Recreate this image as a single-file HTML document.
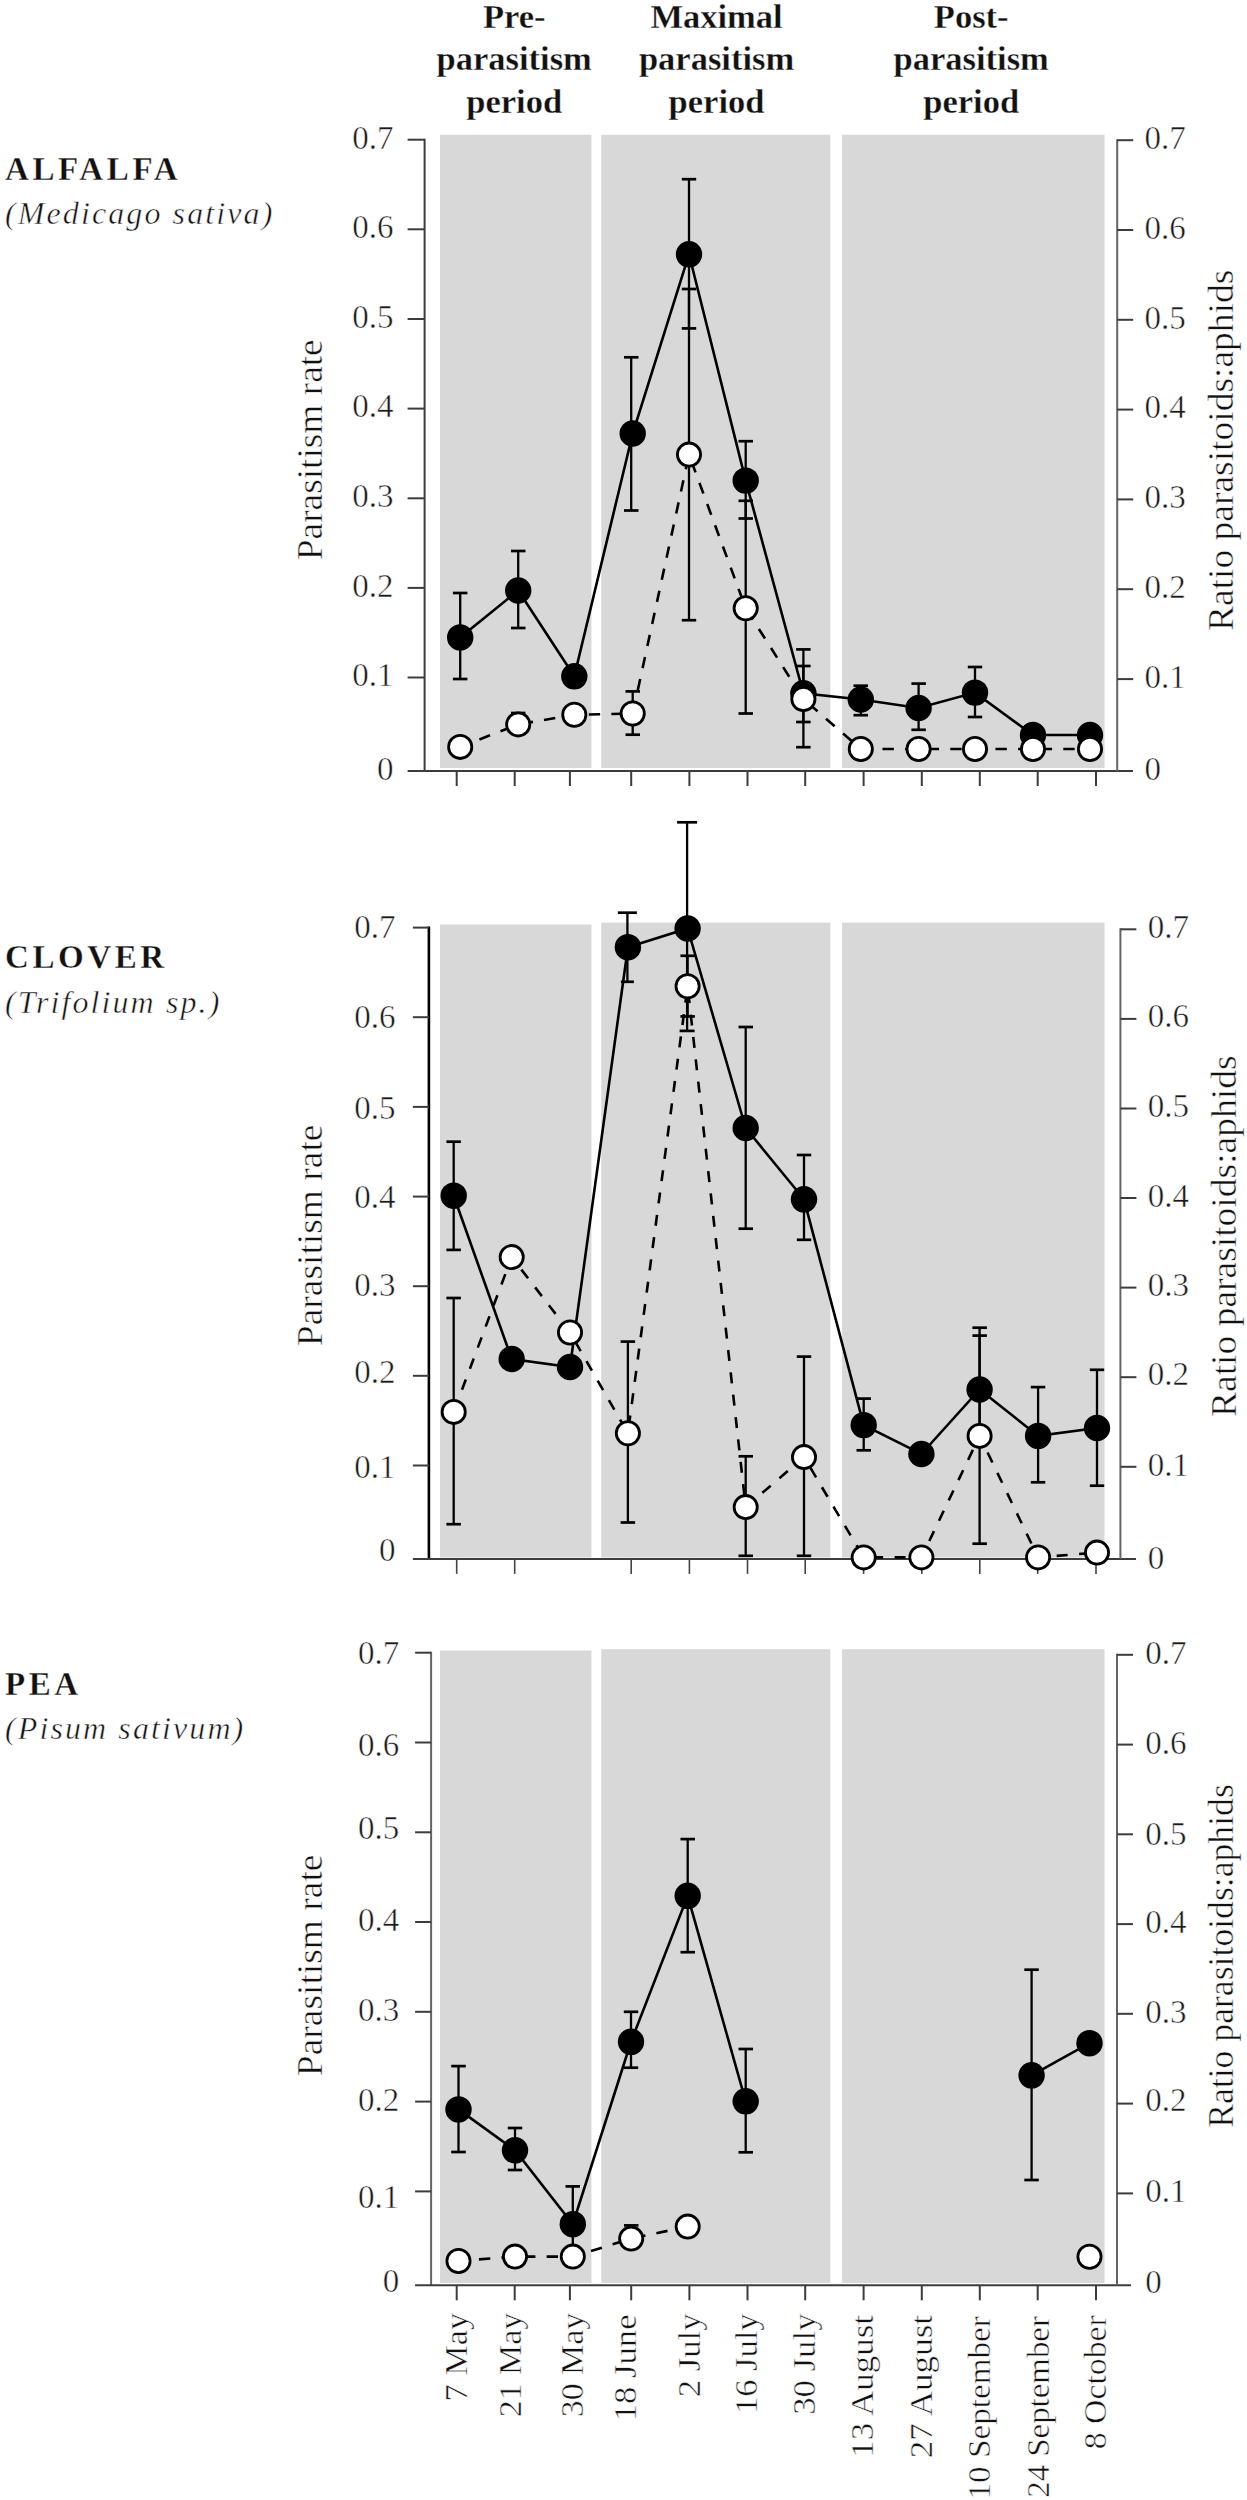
<!DOCTYPE html>
<html><head><meta charset="utf-8"><style>
html,body{margin:0;padding:0;background:#fff;}
svg{display:block;}
text{font-family:"Liberation Serif",serif;fill:#111;stroke:#fff;stroke-width:0.5px;}
text.b{stroke-width:0.3px;}
.tk{fill:#1a1a1a;}
</style></head><body>
<svg width="1247" height="2500" viewBox="0 0 1247 2500">
<rect width="1247" height="2500" fill="#fff"/>
<rect x="440.0" y="134.8" width="151.4" height="633.2" fill="#d8d8d8"/>
<rect x="601.3" y="134.8" width="229.0" height="633.2" fill="#d8d8d8"/>
<rect x="842.1" y="134.8" width="262.4" height="633.2" fill="#d8d8d8"/>
<line x1="424.6" y1="138.7" x2="424.6" y2="771.0" stroke="#3c3c3c" stroke-width="2" />
<line x1="407.6" y1="677.5" x2="424.6" y2="677.5" stroke="#3c3c3c" stroke-width="2" />
<line x1="407.6" y1="587.9" x2="424.6" y2="587.9" stroke="#3c3c3c" stroke-width="2" />
<line x1="407.6" y1="498.3" x2="424.6" y2="498.3" stroke="#3c3c3c" stroke-width="2" />
<line x1="407.6" y1="408.6" x2="424.6" y2="408.6" stroke="#3c3c3c" stroke-width="2" />
<line x1="407.6" y1="319.0" x2="424.6" y2="319.0" stroke="#3c3c3c" stroke-width="2" />
<line x1="407.6" y1="229.3" x2="424.6" y2="229.3" stroke="#3c3c3c" stroke-width="2" />
<line x1="407.6" y1="139.7" x2="424.6" y2="139.7" stroke="#3c3c3c" stroke-width="2" />
<line x1="407.6" y1="771.0" x2="1133.0" y2="771.0" stroke="#3c3c3c" stroke-width="2" />
<line x1="1117.2" y1="139.2" x2="1117.2" y2="771.0" stroke="#646464" stroke-width="2" />
<line x1="1117.2" y1="679.1" x2="1133.2" y2="679.1" stroke="#3c3c3c" stroke-width="2" />
<line x1="1117.2" y1="589.2" x2="1133.2" y2="589.2" stroke="#3c3c3c" stroke-width="2" />
<line x1="1117.2" y1="499.4" x2="1133.2" y2="499.4" stroke="#3c3c3c" stroke-width="2" />
<line x1="1117.2" y1="409.6" x2="1133.2" y2="409.6" stroke="#3c3c3c" stroke-width="2" />
<line x1="1117.2" y1="319.8" x2="1133.2" y2="319.8" stroke="#3c3c3c" stroke-width="2" />
<line x1="1117.2" y1="230.0" x2="1133.2" y2="230.0" stroke="#3c3c3c" stroke-width="2" />
<line x1="1117.2" y1="140.2" x2="1133.2" y2="140.2" stroke="#3c3c3c" stroke-width="2" />
<line x1="456.7" y1="771.0" x2="456.7" y2="786.0" stroke="#3c3c3c" stroke-width="2" />
<line x1="514.7" y1="771.0" x2="514.7" y2="786.0" stroke="#3c3c3c" stroke-width="2" />
<line x1="569.9" y1="771.0" x2="569.9" y2="786.0" stroke="#3c3c3c" stroke-width="2" />
<line x1="631.2" y1="771.0" x2="631.2" y2="786.0" stroke="#3c3c3c" stroke-width="2" />
<line x1="689.4" y1="771.0" x2="689.4" y2="786.0" stroke="#3c3c3c" stroke-width="2" />
<line x1="747.5" y1="771.0" x2="747.5" y2="786.0" stroke="#3c3c3c" stroke-width="2" />
<line x1="805.2" y1="771.0" x2="805.2" y2="786.0" stroke="#3c3c3c" stroke-width="2" />
<line x1="863.6" y1="771.0" x2="863.6" y2="786.0" stroke="#3c3c3c" stroke-width="2" />
<line x1="921.8" y1="771.0" x2="921.8" y2="786.0" stroke="#3c3c3c" stroke-width="2" />
<line x1="979.8" y1="771.0" x2="979.8" y2="786.0" stroke="#3c3c3c" stroke-width="2" />
<line x1="1037.7" y1="771.0" x2="1037.7" y2="786.0" stroke="#3c3c3c" stroke-width="2" />
<line x1="1096.0" y1="771.0" x2="1096.0" y2="786.0" stroke="#3c3c3c" stroke-width="2" />
<text x="393.5" y="779.7" font-size="33" text-anchor="end" font-weight="normal" font-style="normal" class="tk">0</text>
<text x="1144.5" y="779.7" font-size="33" text-anchor="start" font-weight="normal" font-style="normal" class="tk">0</text>
<text x="393.5" y="686.3" font-size="33" text-anchor="end" font-weight="normal" font-style="normal" class="tk">0.1</text>
<text x="1144.5" y="687.9" font-size="33" text-anchor="start" font-weight="normal" font-style="normal" class="tk">0.1</text>
<text x="393.5" y="596.7" font-size="33" text-anchor="end" font-weight="normal" font-style="normal" class="tk">0.2</text>
<text x="1144.5" y="598.0" font-size="33" text-anchor="start" font-weight="normal" font-style="normal" class="tk">0.2</text>
<text x="393.5" y="507.1" font-size="33" text-anchor="end" font-weight="normal" font-style="normal" class="tk">0.3</text>
<text x="1144.5" y="508.2" font-size="33" text-anchor="start" font-weight="normal" font-style="normal" class="tk">0.3</text>
<text x="393.5" y="417.4" font-size="33" text-anchor="end" font-weight="normal" font-style="normal" class="tk">0.4</text>
<text x="1144.5" y="418.4" font-size="33" text-anchor="start" font-weight="normal" font-style="normal" class="tk">0.4</text>
<text x="393.5" y="327.8" font-size="33" text-anchor="end" font-weight="normal" font-style="normal" class="tk">0.5</text>
<text x="1144.5" y="328.6" font-size="33" text-anchor="start" font-weight="normal" font-style="normal" class="tk">0.5</text>
<text x="393.5" y="238.1" font-size="33" text-anchor="end" font-weight="normal" font-style="normal" class="tk">0.6</text>
<text x="1144.5" y="238.8" font-size="33" text-anchor="start" font-weight="normal" font-style="normal" class="tk">0.6</text>
<text x="393.5" y="148.5" font-size="33" text-anchor="end" font-weight="normal" font-style="normal" class="tk">0.7</text>
<text x="1144.5" y="149.0" font-size="33" text-anchor="start" font-weight="normal" font-style="normal" class="tk">0.7</text>
<text transform="translate(322,560.2) rotate(-90)" font-size="36" textLength="220.9" lengthAdjust="spacingAndGlyphs">Parasitism rate</text>
<text transform="translate(1232.5,631.1) rotate(-90)" font-size="36" textLength="361.4" lengthAdjust="spacingAndGlyphs">Ratio parasitoids:aphids</text>
<text x="5" y="179.5" font-size="33" font-weight="bold" letter-spacing="3.6" class="b">ALFALFA</text>
<text x="5" y="224.0" font-size="32" font-style="italic" letter-spacing="2.1">(Medicago sativa)</text>
<line x1="460.2" y1="593.0" x2="460.2" y2="679.0" stroke="#000" stroke-width="2.3" />
<line x1="452.9" y1="593.0" x2="467.4" y2="593.0" stroke="#000" stroke-width="2.7" />
<line x1="452.9" y1="679.0" x2="467.4" y2="679.0" stroke="#000" stroke-width="2.7" />
<line x1="518.2" y1="551.0" x2="518.2" y2="628.0" stroke="#000" stroke-width="2.3" />
<line x1="511.0" y1="551.0" x2="525.5" y2="551.0" stroke="#000" stroke-width="2.7" />
<line x1="511.0" y1="628.0" x2="525.5" y2="628.0" stroke="#000" stroke-width="2.7" />
<line x1="631.2" y1="357.3" x2="631.2" y2="510.5" stroke="#000" stroke-width="2.3" />
<line x1="624.0" y1="357.3" x2="638.5" y2="357.3" stroke="#000" stroke-width="2.7" />
<line x1="624.0" y1="510.5" x2="638.5" y2="510.5" stroke="#000" stroke-width="2.7" />
<line x1="689.0" y1="179.2" x2="689.0" y2="328.4" stroke="#000" stroke-width="2.3" />
<line x1="681.8" y1="179.2" x2="696.2" y2="179.2" stroke="#000" stroke-width="2.7" />
<line x1="681.8" y1="328.4" x2="696.2" y2="328.4" stroke="#000" stroke-width="2.7" />
<line x1="745.7" y1="441.2" x2="745.7" y2="518.5" stroke="#000" stroke-width="2.3" />
<line x1="738.5" y1="441.2" x2="753.0" y2="441.2" stroke="#000" stroke-width="2.7" />
<line x1="738.5" y1="518.5" x2="753.0" y2="518.5" stroke="#000" stroke-width="2.7" />
<line x1="803.4" y1="666.0" x2="803.4" y2="722.0" stroke="#000" stroke-width="2.3" />
<line x1="796.1" y1="666.0" x2="810.6" y2="666.0" stroke="#000" stroke-width="2.7" />
<line x1="796.1" y1="722.0" x2="810.6" y2="722.0" stroke="#000" stroke-width="2.7" />
<line x1="860.8" y1="685.7" x2="860.8" y2="715.2" stroke="#000" stroke-width="2.3" />
<line x1="853.5" y1="685.7" x2="868.0" y2="685.7" stroke="#000" stroke-width="2.7" />
<line x1="853.5" y1="715.2" x2="868.0" y2="715.2" stroke="#000" stroke-width="2.7" />
<line x1="918.6" y1="683.6" x2="918.6" y2="729.8" stroke="#000" stroke-width="2.3" />
<line x1="911.4" y1="683.6" x2="925.9" y2="683.6" stroke="#000" stroke-width="2.7" />
<line x1="911.4" y1="729.8" x2="925.9" y2="729.8" stroke="#000" stroke-width="2.7" />
<line x1="975.0" y1="667.0" x2="975.0" y2="717.0" stroke="#000" stroke-width="2.3" />
<line x1="967.8" y1="667.0" x2="982.2" y2="667.0" stroke="#000" stroke-width="2.7" />
<line x1="967.8" y1="717.0" x2="982.2" y2="717.0" stroke="#000" stroke-width="2.7" />
<polyline points="460.2,637.4 518.2,590.5 574.3,676.3 632.7,433.5 689.0,254.3 745.7,480.6 803.4,693.3 860.8,699.5 918.6,708.0 975.0,692.6 1033.0,735.0 1090.0,735.0" fill="none" stroke="#000" stroke-width="2.6" stroke-linejoin="miter"/>
<circle cx="460.2" cy="637.4" r="13.2" fill="#000"/>
<circle cx="518.2" cy="590.5" r="13.2" fill="#000"/>
<circle cx="574.3" cy="676.3" r="13.2" fill="#000"/>
<circle cx="632.7" cy="433.5" r="13.2" fill="#000"/>
<circle cx="689.0" cy="254.3" r="13.2" fill="#000"/>
<circle cx="745.7" cy="480.6" r="13.2" fill="#000"/>
<circle cx="803.4" cy="693.3" r="13.2" fill="#000"/>
<circle cx="860.8" cy="699.5" r="13.2" fill="#000"/>
<circle cx="918.6" cy="708.0" r="13.2" fill="#000"/>
<circle cx="975.0" cy="692.6" r="13.2" fill="#000"/>
<circle cx="1033.0" cy="735.0" r="13.2" fill="#000"/>
<circle cx="1090.0" cy="735.0" r="13.2" fill="#000"/>
<line x1="518.2" y1="713.0" x2="518.2" y2="730.0" stroke="#000" stroke-width="2.3" />
<line x1="511.0" y1="713.0" x2="525.5" y2="713.0" stroke="#000" stroke-width="2.7" />
<line x1="511.0" y1="730.0" x2="525.5" y2="730.0" stroke="#000" stroke-width="2.7" />
<line x1="632.7" y1="691.4" x2="632.7" y2="734.7" stroke="#000" stroke-width="2.3" />
<line x1="625.5" y1="691.4" x2="640.0" y2="691.4" stroke="#000" stroke-width="2.7" />
<line x1="625.5" y1="734.7" x2="640.0" y2="734.7" stroke="#000" stroke-width="2.7" />
<line x1="689.0" y1="289.0" x2="689.0" y2="620.2" stroke="#000" stroke-width="2.3" />
<line x1="681.8" y1="289.0" x2="696.2" y2="289.0" stroke="#000" stroke-width="2.7" />
<line x1="681.8" y1="620.2" x2="696.2" y2="620.2" stroke="#000" stroke-width="2.7" />
<line x1="745.7" y1="500.8" x2="745.7" y2="713.5" stroke="#000" stroke-width="2.3" />
<line x1="738.5" y1="500.8" x2="753.0" y2="500.8" stroke="#000" stroke-width="2.7" />
<line x1="738.5" y1="713.5" x2="753.0" y2="713.5" stroke="#000" stroke-width="2.7" />
<line x1="803.4" y1="649.4" x2="803.4" y2="747.2" stroke="#000" stroke-width="2.3" />
<line x1="796.1" y1="649.4" x2="810.6" y2="649.4" stroke="#000" stroke-width="2.7" />
<line x1="796.1" y1="747.2" x2="810.6" y2="747.2" stroke="#000" stroke-width="2.7" />
<polyline points="460.2,746.9 518.2,724.4 574.3,714.8 632.7,713.5 689.0,454.6 745.7,608.2 803.4,699.0 860.8,749.0 918.6,749.0 975.0,749.0 1033.0,749.0 1090.0,749.0" fill="none" stroke="#000" stroke-width="2.6" stroke-dasharray="11.4 11.2" stroke-dashoffset="2.0"/>
<circle cx="460.2" cy="746.9" r="11.6" fill="#fff" stroke="#000" stroke-width="2.8"/>
<circle cx="518.2" cy="724.4" r="11.6" fill="#fff" stroke="#000" stroke-width="2.8"/>
<circle cx="574.3" cy="714.8" r="11.6" fill="#fff" stroke="#000" stroke-width="2.8"/>
<circle cx="632.7" cy="713.5" r="11.6" fill="#fff" stroke="#000" stroke-width="2.8"/>
<circle cx="689.0" cy="454.6" r="11.6" fill="#fff" stroke="#000" stroke-width="2.8"/>
<circle cx="745.7" cy="608.2" r="11.6" fill="#fff" stroke="#000" stroke-width="2.8"/>
<circle cx="803.4" cy="699.0" r="11.6" fill="#fff" stroke="#000" stroke-width="2.8"/>
<circle cx="860.8" cy="749.0" r="11.6" fill="#fff" stroke="#000" stroke-width="2.8"/>
<circle cx="918.6" cy="749.0" r="11.6" fill="#fff" stroke="#000" stroke-width="2.8"/>
<circle cx="975.0" cy="749.0" r="11.6" fill="#fff" stroke="#000" stroke-width="2.8"/>
<circle cx="1033.0" cy="749.0" r="11.6" fill="#fff" stroke="#000" stroke-width="2.8"/>
<circle cx="1090.0" cy="749.0" r="11.6" fill="#fff" stroke="#000" stroke-width="2.8"/>
<rect x="440.0" y="924.5" width="151.4" height="633.0" fill="#d8d8d8"/>
<rect x="601.3" y="922.7" width="229.0" height="634.8" fill="#d8d8d8"/>
<rect x="842.1" y="922.7" width="262.4" height="634.8" fill="#d8d8d8"/>
<line x1="428.9" y1="926.6" x2="428.9" y2="1558.9" stroke="#000" stroke-width="2.6" />
<line x1="412.9" y1="1465.5" x2="428.9" y2="1465.5" stroke="#3c3c3c" stroke-width="2" />
<line x1="412.9" y1="1375.8" x2="428.9" y2="1375.8" stroke="#3c3c3c" stroke-width="2" />
<line x1="412.9" y1="1286.2" x2="428.9" y2="1286.2" stroke="#3c3c3c" stroke-width="2" />
<line x1="412.9" y1="1196.6" x2="428.9" y2="1196.6" stroke="#3c3c3c" stroke-width="2" />
<line x1="412.9" y1="1106.9" x2="428.9" y2="1106.9" stroke="#3c3c3c" stroke-width="2" />
<line x1="412.9" y1="1017.2" x2="428.9" y2="1017.2" stroke="#3c3c3c" stroke-width="2" />
<line x1="412.9" y1="927.6" x2="428.9" y2="927.6" stroke="#3c3c3c" stroke-width="2" />
<line x1="412.9" y1="1558.9" x2="1136.0" y2="1558.9" stroke="#3c3c3c" stroke-width="2" />
<line x1="1120.4" y1="928.3" x2="1120.4" y2="1558.9" stroke="#646464" stroke-width="2" />
<line x1="1120.4" y1="1466.8" x2="1136.4" y2="1466.8" stroke="#3c3c3c" stroke-width="2" />
<line x1="1120.4" y1="1377.2" x2="1136.4" y2="1377.2" stroke="#3c3c3c" stroke-width="2" />
<line x1="1120.4" y1="1287.6" x2="1136.4" y2="1287.6" stroke="#3c3c3c" stroke-width="2" />
<line x1="1120.4" y1="1198.0" x2="1136.4" y2="1198.0" stroke="#3c3c3c" stroke-width="2" />
<line x1="1120.4" y1="1108.5" x2="1136.4" y2="1108.5" stroke="#3c3c3c" stroke-width="2" />
<line x1="1120.4" y1="1018.9" x2="1136.4" y2="1018.9" stroke="#3c3c3c" stroke-width="2" />
<line x1="1120.4" y1="929.3" x2="1136.4" y2="929.3" stroke="#3c3c3c" stroke-width="2" />
<line x1="456.7" y1="1558.9" x2="456.7" y2="1573.9" stroke="#444" stroke-width="1.6" />
<line x1="514.7" y1="1558.9" x2="514.7" y2="1573.9" stroke="#444" stroke-width="1.6" />
<line x1="631.2" y1="1558.9" x2="631.2" y2="1573.9" stroke="#444" stroke-width="1.6" />
<line x1="689.4" y1="1558.9" x2="689.4" y2="1573.9" stroke="#444" stroke-width="1.6" />
<line x1="747.5" y1="1558.9" x2="747.5" y2="1573.9" stroke="#444" stroke-width="1.6" />
<line x1="805.2" y1="1558.9" x2="805.2" y2="1573.9" stroke="#444" stroke-width="1.6" />
<line x1="863.6" y1="1558.9" x2="863.6" y2="1573.9" stroke="#444" stroke-width="1.6" />
<line x1="921.8" y1="1558.9" x2="921.8" y2="1573.9" stroke="#444" stroke-width="1.6" />
<line x1="979.8" y1="1558.9" x2="979.8" y2="1573.9" stroke="#444" stroke-width="1.6" />
<line x1="1037.7" y1="1558.9" x2="1037.7" y2="1573.9" stroke="#444" stroke-width="1.6" />
<line x1="1096.0" y1="1558.9" x2="1096.0" y2="1573.9" stroke="#444" stroke-width="1.6" />
<text x="395.5" y="1561.4" font-size="33" text-anchor="end" font-weight="normal" font-style="normal" class="tk">0</text>
<text x="1147.7" y="1568.5" font-size="33" text-anchor="start" font-weight="normal" font-style="normal" class="tk">0</text>
<text x="395.5" y="1477.5" font-size="33" text-anchor="end" font-weight="normal" font-style="normal" class="tk">0.1</text>
<text x="1147.7" y="1476.3" font-size="33" text-anchor="start" font-weight="normal" font-style="normal" class="tk">0.1</text>
<text x="395.5" y="1382.5" font-size="33" text-anchor="end" font-weight="normal" font-style="normal" class="tk">0.2</text>
<text x="1147.7" y="1384.5" font-size="33" text-anchor="start" font-weight="normal" font-style="normal" class="tk">0.2</text>
<text x="395.5" y="1296.3" font-size="33" text-anchor="end" font-weight="normal" font-style="normal" class="tk">0.3</text>
<text x="1147.7" y="1296.0" font-size="33" text-anchor="start" font-weight="normal" font-style="normal" class="tk">0.3</text>
<text x="395.5" y="1208.0" font-size="33" text-anchor="end" font-weight="normal" font-style="normal" class="tk">0.4</text>
<text x="1147.7" y="1206.5" font-size="33" text-anchor="start" font-weight="normal" font-style="normal" class="tk">0.4</text>
<text x="395.5" y="1118.7" font-size="33" text-anchor="end" font-weight="normal" font-style="normal" class="tk">0.5</text>
<text x="1147.7" y="1117.0" font-size="33" text-anchor="start" font-weight="normal" font-style="normal" class="tk">0.5</text>
<text x="395.5" y="1028.0" font-size="33" text-anchor="end" font-weight="normal" font-style="normal" class="tk">0.6</text>
<text x="1147.7" y="1027.4" font-size="33" text-anchor="start" font-weight="normal" font-style="normal" class="tk">0.6</text>
<text x="395.5" y="937.8" font-size="33" text-anchor="end" font-weight="normal" font-style="normal" class="tk">0.7</text>
<text x="1147.7" y="937.7" font-size="33" text-anchor="start" font-weight="normal" font-style="normal" class="tk">0.7</text>
<text transform="translate(322,1346.2) rotate(-90)" font-size="36" textLength="221.7" lengthAdjust="spacingAndGlyphs">Parasitism rate</text>
<text transform="translate(1235.5,1417.0) rotate(-90)" font-size="36" textLength="361.5" lengthAdjust="spacingAndGlyphs">Ratio parasitoids:aphids</text>
<text x="5" y="968.4" font-size="33" font-weight="bold" letter-spacing="3.6" class="b">CLOVER</text>
<text x="5" y="1012.9" font-size="32" font-style="italic" letter-spacing="2.1">(Trifolium sp.)</text>
<line x1="453.7" y1="1141.7" x2="453.7" y2="1249.9" stroke="#000" stroke-width="2.3" />
<line x1="446.4" y1="1141.7" x2="460.9" y2="1141.7" stroke="#000" stroke-width="2.7" />
<line x1="446.4" y1="1249.9" x2="460.9" y2="1249.9" stroke="#000" stroke-width="2.7" />
<line x1="627.4" y1="912.7" x2="627.4" y2="981.8" stroke="#000" stroke-width="2.3" />
<line x1="617.9" y1="912.7" x2="636.9" y2="912.7" stroke="#000" stroke-width="2.7" />
<line x1="620.9" y1="981.8" x2="633.9" y2="981.8" stroke="#000" stroke-width="2.7" />
<line x1="687.1" y1="822.3" x2="687.1" y2="1030.9" stroke="#000" stroke-width="2.3" />
<line x1="677.1" y1="822.3" x2="697.1" y2="822.3" stroke="#000" stroke-width="2.7" />
<line x1="679.6" y1="1030.9" x2="694.6" y2="1030.9" stroke="#000" stroke-width="2.7" />
<line x1="745.7" y1="1027.0" x2="745.7" y2="1228.7" stroke="#000" stroke-width="2.3" />
<line x1="738.5" y1="1027.0" x2="753.0" y2="1027.0" stroke="#000" stroke-width="2.7" />
<line x1="738.5" y1="1228.7" x2="753.0" y2="1228.7" stroke="#000" stroke-width="2.7" />
<line x1="804.0" y1="1155.0" x2="804.0" y2="1239.8" stroke="#000" stroke-width="2.3" />
<line x1="796.8" y1="1155.0" x2="811.2" y2="1155.0" stroke="#000" stroke-width="2.7" />
<line x1="796.8" y1="1239.8" x2="811.2" y2="1239.8" stroke="#000" stroke-width="2.7" />
<line x1="863.7" y1="1398.6" x2="863.7" y2="1450.3" stroke="#000" stroke-width="2.3" />
<line x1="856.5" y1="1398.6" x2="871.0" y2="1398.6" stroke="#000" stroke-width="2.7" />
<line x1="856.5" y1="1450.3" x2="871.0" y2="1450.3" stroke="#000" stroke-width="2.7" />
<line x1="979.6" y1="1335.6" x2="979.6" y2="1443.0" stroke="#000" stroke-width="2.3" />
<line x1="972.4" y1="1335.6" x2="986.9" y2="1335.6" stroke="#000" stroke-width="2.7" />
<line x1="972.4" y1="1443.0" x2="986.9" y2="1443.0" stroke="#000" stroke-width="2.7" />
<line x1="1038.1" y1="1387.1" x2="1038.1" y2="1482.3" stroke="#000" stroke-width="2.3" />
<line x1="1030.8" y1="1387.1" x2="1045.3" y2="1387.1" stroke="#000" stroke-width="2.7" />
<line x1="1030.8" y1="1482.3" x2="1045.3" y2="1482.3" stroke="#000" stroke-width="2.7" />
<line x1="1097.0" y1="1369.8" x2="1097.0" y2="1485.7" stroke="#000" stroke-width="2.3" />
<line x1="1089.8" y1="1369.8" x2="1104.2" y2="1369.8" stroke="#000" stroke-width="2.7" />
<line x1="1089.8" y1="1485.7" x2="1104.2" y2="1485.7" stroke="#000" stroke-width="2.7" />
<polyline points="453.7,1195.7 511.7,1359.0 570.0,1367.0 627.9,947.2 687.6,928.5 745.7,1128.0 804.0,1199.3 863.7,1425.1 921.4,1454.0 979.6,1389.5 1038.1,1435.9 1097.0,1428.0" fill="none" stroke="#000" stroke-width="2.6" stroke-linejoin="miter"/>
<circle cx="453.7" cy="1195.7" r="13.2" fill="#000"/>
<circle cx="511.7" cy="1359.0" r="13.2" fill="#000"/>
<circle cx="570.0" cy="1367.0" r="13.2" fill="#000"/>
<circle cx="627.9" cy="947.2" r="13.2" fill="#000"/>
<circle cx="687.6" cy="928.5" r="13.2" fill="#000"/>
<circle cx="745.7" cy="1128.0" r="13.2" fill="#000"/>
<circle cx="804.0" cy="1199.3" r="13.2" fill="#000"/>
<circle cx="863.7" cy="1425.1" r="13.2" fill="#000"/>
<circle cx="921.4" cy="1454.0" r="13.2" fill="#000"/>
<circle cx="979.6" cy="1389.5" r="13.2" fill="#000"/>
<circle cx="1038.1" cy="1435.9" r="13.2" fill="#000"/>
<circle cx="1097.0" cy="1428.0" r="13.2" fill="#000"/>
<line x1="453.7" y1="1298.0" x2="453.7" y2="1524.2" stroke="#000" stroke-width="2.3" />
<line x1="446.4" y1="1298.0" x2="460.9" y2="1298.0" stroke="#000" stroke-width="2.7" />
<line x1="446.4" y1="1524.2" x2="460.9" y2="1524.2" stroke="#000" stroke-width="2.7" />
<line x1="627.9" y1="1341.6" x2="627.9" y2="1522.5" stroke="#000" stroke-width="2.3" />
<line x1="620.6" y1="1341.6" x2="635.1" y2="1341.6" stroke="#000" stroke-width="2.7" />
<line x1="620.6" y1="1522.5" x2="635.1" y2="1522.5" stroke="#000" stroke-width="2.7" />
<line x1="687.6" y1="955.8" x2="687.6" y2="1016.4" stroke="#000" stroke-width="2.3" />
<line x1="680.4" y1="955.8" x2="694.9" y2="955.8" stroke="#000" stroke-width="2.7" />
<line x1="680.4" y1="1016.4" x2="694.9" y2="1016.4" stroke="#000" stroke-width="2.7" />
<line x1="745.7" y1="1456.3" x2="745.7" y2="1555.8" stroke="#000" stroke-width="2.3" />
<line x1="738.5" y1="1456.3" x2="753.0" y2="1456.3" stroke="#000" stroke-width="2.7" />
<line x1="738.5" y1="1555.8" x2="753.0" y2="1555.8" stroke="#000" stroke-width="2.7" />
<line x1="804.0" y1="1356.6" x2="804.0" y2="1555.8" stroke="#000" stroke-width="2.3" />
<line x1="796.8" y1="1356.6" x2="811.2" y2="1356.6" stroke="#000" stroke-width="2.7" />
<line x1="796.8" y1="1555.8" x2="811.2" y2="1555.8" stroke="#000" stroke-width="2.7" />
<line x1="979.6" y1="1327.7" x2="979.6" y2="1543.7" stroke="#000" stroke-width="2.3" />
<line x1="972.4" y1="1327.7" x2="986.9" y2="1327.7" stroke="#000" stroke-width="2.7" />
<line x1="972.4" y1="1543.7" x2="986.9" y2="1543.7" stroke="#000" stroke-width="2.7" />
<polyline points="453.7,1411.9 511.7,1257.1 570.0,1332.5 627.9,1433.2 687.6,986.3 745.7,1507.1 804.0,1457.1 863.7,1557.4 921.4,1557.4 979.6,1435.9 1038.1,1557.4 1097.0,1552.6" fill="none" stroke="#000" stroke-width="2.6" stroke-dasharray="11 11.5" stroke-dashoffset="21.4"/>
<circle cx="453.7" cy="1411.9" r="11.6" fill="#fff" stroke="#000" stroke-width="2.8"/>
<circle cx="511.7" cy="1257.1" r="11.6" fill="#fff" stroke="#000" stroke-width="2.8"/>
<circle cx="570.0" cy="1332.5" r="11.6" fill="#fff" stroke="#000" stroke-width="2.8"/>
<circle cx="627.9" cy="1433.2" r="11.6" fill="#fff" stroke="#000" stroke-width="2.8"/>
<circle cx="687.6" cy="986.3" r="11.6" fill="#fff" stroke="#000" stroke-width="2.8"/>
<circle cx="745.7" cy="1507.1" r="11.6" fill="#fff" stroke="#000" stroke-width="2.8"/>
<circle cx="804.0" cy="1457.1" r="11.6" fill="#fff" stroke="#000" stroke-width="2.8"/>
<circle cx="863.7" cy="1557.4" r="11.6" fill="#fff" stroke="#000" stroke-width="2.8"/>
<circle cx="921.4" cy="1557.4" r="11.6" fill="#fff" stroke="#000" stroke-width="2.8"/>
<circle cx="979.6" cy="1435.9" r="11.6" fill="#fff" stroke="#000" stroke-width="2.8"/>
<circle cx="1038.1" cy="1557.4" r="11.6" fill="#fff" stroke="#000" stroke-width="2.8"/>
<circle cx="1097.0" cy="1552.6" r="11.6" fill="#fff" stroke="#000" stroke-width="2.8"/>
<rect x="440.0" y="1650.5" width="151.4" height="632.5" fill="#d8d8d8"/>
<rect x="601.3" y="1649.2" width="229.0" height="633.8" fill="#d8d8d8"/>
<rect x="842.1" y="1649.2" width="262.4" height="633.8" fill="#d8d8d8"/>
<line x1="431.1" y1="1651.7" x2="431.1" y2="2285.3" stroke="#646464" stroke-width="2" />
<line x1="415.1" y1="2191.4" x2="431.1" y2="2191.4" stroke="#3c3c3c" stroke-width="2" />
<line x1="415.1" y1="2101.6" x2="431.1" y2="2101.6" stroke="#3c3c3c" stroke-width="2" />
<line x1="415.1" y1="2011.8" x2="431.1" y2="2011.8" stroke="#3c3c3c" stroke-width="2" />
<line x1="415.1" y1="1922.0" x2="431.1" y2="1922.0" stroke="#3c3c3c" stroke-width="2" />
<line x1="415.1" y1="1832.3" x2="431.1" y2="1832.3" stroke="#3c3c3c" stroke-width="2" />
<line x1="415.1" y1="1742.5" x2="431.1" y2="1742.5" stroke="#3c3c3c" stroke-width="2" />
<line x1="415.1" y1="1652.7" x2="431.1" y2="1652.7" stroke="#3c3c3c" stroke-width="2" />
<line x1="415.1" y1="2285.3" x2="1131.0" y2="2285.3" stroke="#3c3c3c" stroke-width="2" />
<line x1="1117.0" y1="1653.8" x2="1117.0" y2="2285.3" stroke="#646464" stroke-width="2" />
<line x1="1117.0" y1="2193.4" x2="1133.0" y2="2193.4" stroke="#3c3c3c" stroke-width="2" />
<line x1="1117.0" y1="2103.6" x2="1133.0" y2="2103.6" stroke="#3c3c3c" stroke-width="2" />
<line x1="1117.0" y1="2013.8" x2="1133.0" y2="2013.8" stroke="#3c3c3c" stroke-width="2" />
<line x1="1117.0" y1="1924.1" x2="1133.0" y2="1924.1" stroke="#3c3c3c" stroke-width="2" />
<line x1="1117.0" y1="1834.3" x2="1133.0" y2="1834.3" stroke="#3c3c3c" stroke-width="2" />
<line x1="1117.0" y1="1744.6" x2="1133.0" y2="1744.6" stroke="#3c3c3c" stroke-width="2" />
<line x1="1117.0" y1="1654.8" x2="1133.0" y2="1654.8" stroke="#3c3c3c" stroke-width="2" />
<line x1="456.7" y1="2285.3" x2="456.7" y2="2300.3" stroke="#3c3c3c" stroke-width="2" />
<line x1="514.7" y1="2285.3" x2="514.7" y2="2300.3" stroke="#3c3c3c" stroke-width="2" />
<line x1="569.9" y1="2285.3" x2="569.9" y2="2300.3" stroke="#3c3c3c" stroke-width="2" />
<line x1="631.2" y1="2285.3" x2="631.2" y2="2300.3" stroke="#3c3c3c" stroke-width="2" />
<line x1="689.4" y1="2285.3" x2="689.4" y2="2300.3" stroke="#3c3c3c" stroke-width="2" />
<line x1="747.5" y1="2285.3" x2="747.5" y2="2300.3" stroke="#3c3c3c" stroke-width="2" />
<line x1="805.2" y1="2285.3" x2="805.2" y2="2300.3" stroke="#3c3c3c" stroke-width="2" />
<line x1="863.6" y1="2285.3" x2="863.6" y2="2300.3" stroke="#3c3c3c" stroke-width="2" />
<line x1="921.8" y1="2285.3" x2="921.8" y2="2300.3" stroke="#3c3c3c" stroke-width="2" />
<line x1="979.8" y1="2285.3" x2="979.8" y2="2300.3" stroke="#3c3c3c" stroke-width="2" />
<line x1="1037.7" y1="2285.3" x2="1037.7" y2="2300.3" stroke="#3c3c3c" stroke-width="2" />
<line x1="1096.0" y1="2285.3" x2="1096.0" y2="2300.3" stroke="#3c3c3c" stroke-width="2" />
<text x="399.3" y="2292.1" font-size="33" text-anchor="end" font-weight="normal" font-style="normal" class="tk">0</text>
<text x="1145.2" y="2293.3" font-size="33" text-anchor="start" font-weight="normal" font-style="normal" class="tk">0</text>
<text x="399.3" y="2208.4" font-size="33" text-anchor="end" font-weight="normal" font-style="normal" class="tk">0.1</text>
<text x="1145.2" y="2202.0" font-size="33" text-anchor="start" font-weight="normal" font-style="normal" class="tk">0.1</text>
<text x="399.3" y="2110.6" font-size="33" text-anchor="end" font-weight="normal" font-style="normal" class="tk">0.2</text>
<text x="1145.2" y="2111.3" font-size="33" text-anchor="start" font-weight="normal" font-style="normal" class="tk">0.2</text>
<text x="399.3" y="2021.1" font-size="33" text-anchor="end" font-weight="normal" font-style="normal" class="tk">0.3</text>
<text x="1145.2" y="2023.1" font-size="33" text-anchor="start" font-weight="normal" font-style="normal" class="tk">0.3</text>
<text x="399.3" y="1931.3" font-size="33" text-anchor="end" font-weight="normal" font-style="normal" class="tk">0.4</text>
<text x="1145.2" y="1932.9" font-size="33" text-anchor="start" font-weight="normal" font-style="normal" class="tk">0.4</text>
<text x="399.3" y="1839.1" font-size="33" text-anchor="end" font-weight="normal" font-style="normal" class="tk">0.5</text>
<text x="1145.2" y="1844.6" font-size="33" text-anchor="start" font-weight="normal" font-style="normal" class="tk">0.5</text>
<text x="399.3" y="1755.9" font-size="33" text-anchor="end" font-weight="normal" font-style="normal" class="tk">0.6</text>
<text x="1145.2" y="1753.8" font-size="33" text-anchor="start" font-weight="normal" font-style="normal" class="tk">0.6</text>
<text x="399.3" y="1664.4" font-size="33" text-anchor="end" font-weight="normal" font-style="normal" class="tk">0.7</text>
<text x="1145.2" y="1663.6" font-size="33" text-anchor="start" font-weight="normal" font-style="normal" class="tk">0.7</text>
<text transform="translate(322,2076.2) rotate(-90)" font-size="36" textLength="221.7" lengthAdjust="spacingAndGlyphs">Parasitism rate</text>
<text transform="translate(1232.8,2127.8) rotate(-90)" font-size="36" textLength="343.6" lengthAdjust="spacingAndGlyphs">Ratio parasitoids:aphids</text>
<text x="5" y="1694.7" font-size="33" font-weight="bold" letter-spacing="3.6" class="b">PEA</text>
<text x="5" y="1739.2" font-size="32" font-style="italic" letter-spacing="2.1">(Pisum sativum)</text>
<line x1="458.5" y1="2066.1" x2="458.5" y2="2152.0" stroke="#000" stroke-width="2.3" />
<line x1="451.2" y1="2066.1" x2="465.8" y2="2066.1" stroke="#000" stroke-width="2.7" />
<line x1="451.2" y1="2152.0" x2="465.8" y2="2152.0" stroke="#000" stroke-width="2.7" />
<line x1="515.0" y1="2128.0" x2="515.0" y2="2170.0" stroke="#000" stroke-width="2.3" />
<line x1="507.8" y1="2128.0" x2="522.2" y2="2128.0" stroke="#000" stroke-width="2.7" />
<line x1="507.8" y1="2170.0" x2="522.2" y2="2170.0" stroke="#000" stroke-width="2.7" />
<line x1="572.8" y1="2186.4" x2="572.8" y2="2262.0" stroke="#000" stroke-width="2.3" />
<line x1="565.5" y1="2186.4" x2="580.0" y2="2186.4" stroke="#000" stroke-width="2.7" />
<line x1="565.5" y1="2262.0" x2="580.0" y2="2262.0" stroke="#000" stroke-width="2.7" />
<line x1="631.0" y1="2011.8" x2="631.0" y2="2067.7" stroke="#000" stroke-width="2.3" />
<line x1="623.8" y1="2011.8" x2="638.2" y2="2011.8" stroke="#000" stroke-width="2.7" />
<line x1="623.8" y1="2067.7" x2="638.2" y2="2067.7" stroke="#000" stroke-width="2.7" />
<line x1="687.7" y1="1839.1" x2="687.7" y2="1952.2" stroke="#000" stroke-width="2.3" />
<line x1="680.5" y1="1839.1" x2="695.0" y2="1839.1" stroke="#000" stroke-width="2.7" />
<line x1="680.5" y1="1952.2" x2="695.0" y2="1952.2" stroke="#000" stroke-width="2.7" />
<line x1="745.7" y1="2049.0" x2="745.7" y2="2152.3" stroke="#000" stroke-width="2.3" />
<line x1="738.5" y1="2049.0" x2="753.0" y2="2049.0" stroke="#000" stroke-width="2.7" />
<line x1="738.5" y1="2152.3" x2="753.0" y2="2152.3" stroke="#000" stroke-width="2.7" />
<line x1="1031.6" y1="1969.7" x2="1031.6" y2="2180.0" stroke="#000" stroke-width="2.3" />
<line x1="1024.3" y1="1969.7" x2="1038.8" y2="1969.7" stroke="#000" stroke-width="2.7" />
<line x1="1024.3" y1="2180.0" x2="1038.8" y2="2180.0" stroke="#000" stroke-width="2.7" />
<polyline points="458.5,2109.4 515.0,2150.3 572.8,2224.2 631.0,2041.8 687.7,1895.8 745.7,2101.3" fill="none" stroke="#000" stroke-width="2.6" stroke-linejoin="miter"/>
<polyline points="1031.6,2075.3 1089.5,2043.2" fill="none" stroke="#000" stroke-width="2.6" stroke-linejoin="miter"/>
<circle cx="458.5" cy="2109.4" r="13.2" fill="#000"/>
<circle cx="515.0" cy="2150.3" r="13.2" fill="#000"/>
<circle cx="572.8" cy="2224.2" r="13.2" fill="#000"/>
<circle cx="631.0" cy="2041.8" r="13.2" fill="#000"/>
<circle cx="687.7" cy="1895.8" r="13.2" fill="#000"/>
<circle cx="745.7" cy="2101.3" r="13.2" fill="#000"/>
<circle cx="1031.6" cy="2075.3" r="13.2" fill="#000"/>
<circle cx="1089.5" cy="2043.2" r="13.2" fill="#000"/>
<line x1="631.2" y1="2225.4" x2="631.2" y2="2245.0" stroke="#000" stroke-width="2.3" />
<line x1="624.0" y1="2225.4" x2="638.5" y2="2225.4" stroke="#000" stroke-width="2.7" />
<line x1="624.0" y1="2245.0" x2="638.5" y2="2245.0" stroke="#000" stroke-width="2.7" />
<polyline points="458.5,2261.0 515.0,2256.6 572.8,2256.6 631.2,2238.6 687.7,2226.6" fill="none" stroke="#000" stroke-width="2.6" stroke-dasharray="11.4 11.2" stroke-dashoffset="2.1"/>
<circle cx="458.5" cy="2261.0" r="11.6" fill="#fff" stroke="#000" stroke-width="2.8"/>
<circle cx="515.0" cy="2256.6" r="11.6" fill="#fff" stroke="#000" stroke-width="2.8"/>
<circle cx="572.8" cy="2256.6" r="11.6" fill="#fff" stroke="#000" stroke-width="2.8"/>
<circle cx="631.2" cy="2238.6" r="11.6" fill="#fff" stroke="#000" stroke-width="2.8"/>
<circle cx="687.7" cy="2226.6" r="11.6" fill="#fff" stroke="#000" stroke-width="2.8"/>
<circle cx="1089.5" cy="2256.8" r="11.6" fill="#fff" stroke="#000" stroke-width="2.8"/>
<text x="514.2" y="28.1" font-size="34.5" font-weight="bold" text-anchor="middle" class="b">Pre-</text>
<text x="514.2" y="69.8" font-size="34.5" font-weight="bold" text-anchor="middle" class="b">parasitism</text>
<text x="514.2" y="112.8" font-size="34.5" font-weight="bold" text-anchor="middle" class="b">period</text>
<text x="716.5" y="28.1" font-size="34.5" font-weight="bold" text-anchor="middle" class="b">Maximal</text>
<text x="716.5" y="69.8" font-size="34.5" font-weight="bold" text-anchor="middle" class="b">parasitism</text>
<text x="716.5" y="112.8" font-size="34.5" font-weight="bold" text-anchor="middle" class="b">period</text>
<text x="971.2" y="28.1" font-size="34.5" font-weight="bold" text-anchor="middle" class="b">Post-</text>
<text x="971.2" y="69.8" font-size="34.5" font-weight="bold" text-anchor="middle" class="b">parasitism</text>
<text x="971.2" y="112.8" font-size="34.5" font-weight="bold" text-anchor="middle" class="b">period</text>
<text transform="translate(467.2,2401.4) rotate(-90)" font-size="32.5" textLength="88.6" lengthAdjust="spacingAndGlyphs">7 May</text>
<text transform="translate(521.1,2417.3) rotate(-90)" font-size="32.5" textLength="104.5" lengthAdjust="spacingAndGlyphs">21 May</text>
<text transform="translate(582.7,2417.3) rotate(-90)" font-size="32.5" textLength="104.5" lengthAdjust="spacingAndGlyphs">30 May</text>
<text transform="translate(636.2,2421.3) rotate(-90)" font-size="32.5" textLength="106.9" lengthAdjust="spacingAndGlyphs">18 June</text>
<text transform="translate(699.7,2397.2) rotate(-90)" font-size="32.5" textLength="83.7" lengthAdjust="spacingAndGlyphs">2 July</text>
<text transform="translate(757.4,2414.1) rotate(-90)" font-size="32.5" textLength="100.6" lengthAdjust="spacingAndGlyphs">16 July</text>
<text transform="translate(815.2,2414.8) rotate(-90)" font-size="32.5" textLength="101.3" lengthAdjust="spacingAndGlyphs">30 July</text>
<text transform="translate(873.3,2457.8) rotate(-90)" font-size="32.5" textLength="142.9" lengthAdjust="spacingAndGlyphs">13 August</text>
<text transform="translate(932.2,2458.2) rotate(-90)" font-size="32.5" textLength="143.3" lengthAdjust="spacingAndGlyphs">27 August</text>
<text transform="translate(990,2499.5) rotate(-90)" font-size="32.5" textLength="183.4" lengthAdjust="spacingAndGlyphs">10 September</text>
<text transform="translate(1048.9,2497.8) rotate(-90)" font-size="32.5" textLength="181.7" lengthAdjust="spacingAndGlyphs">24 September</text>
<text transform="translate(1106.2,2449.2) rotate(-90)" font-size="32.5" textLength="134.0" lengthAdjust="spacingAndGlyphs">8 October</text>
</svg>
</body></html>
